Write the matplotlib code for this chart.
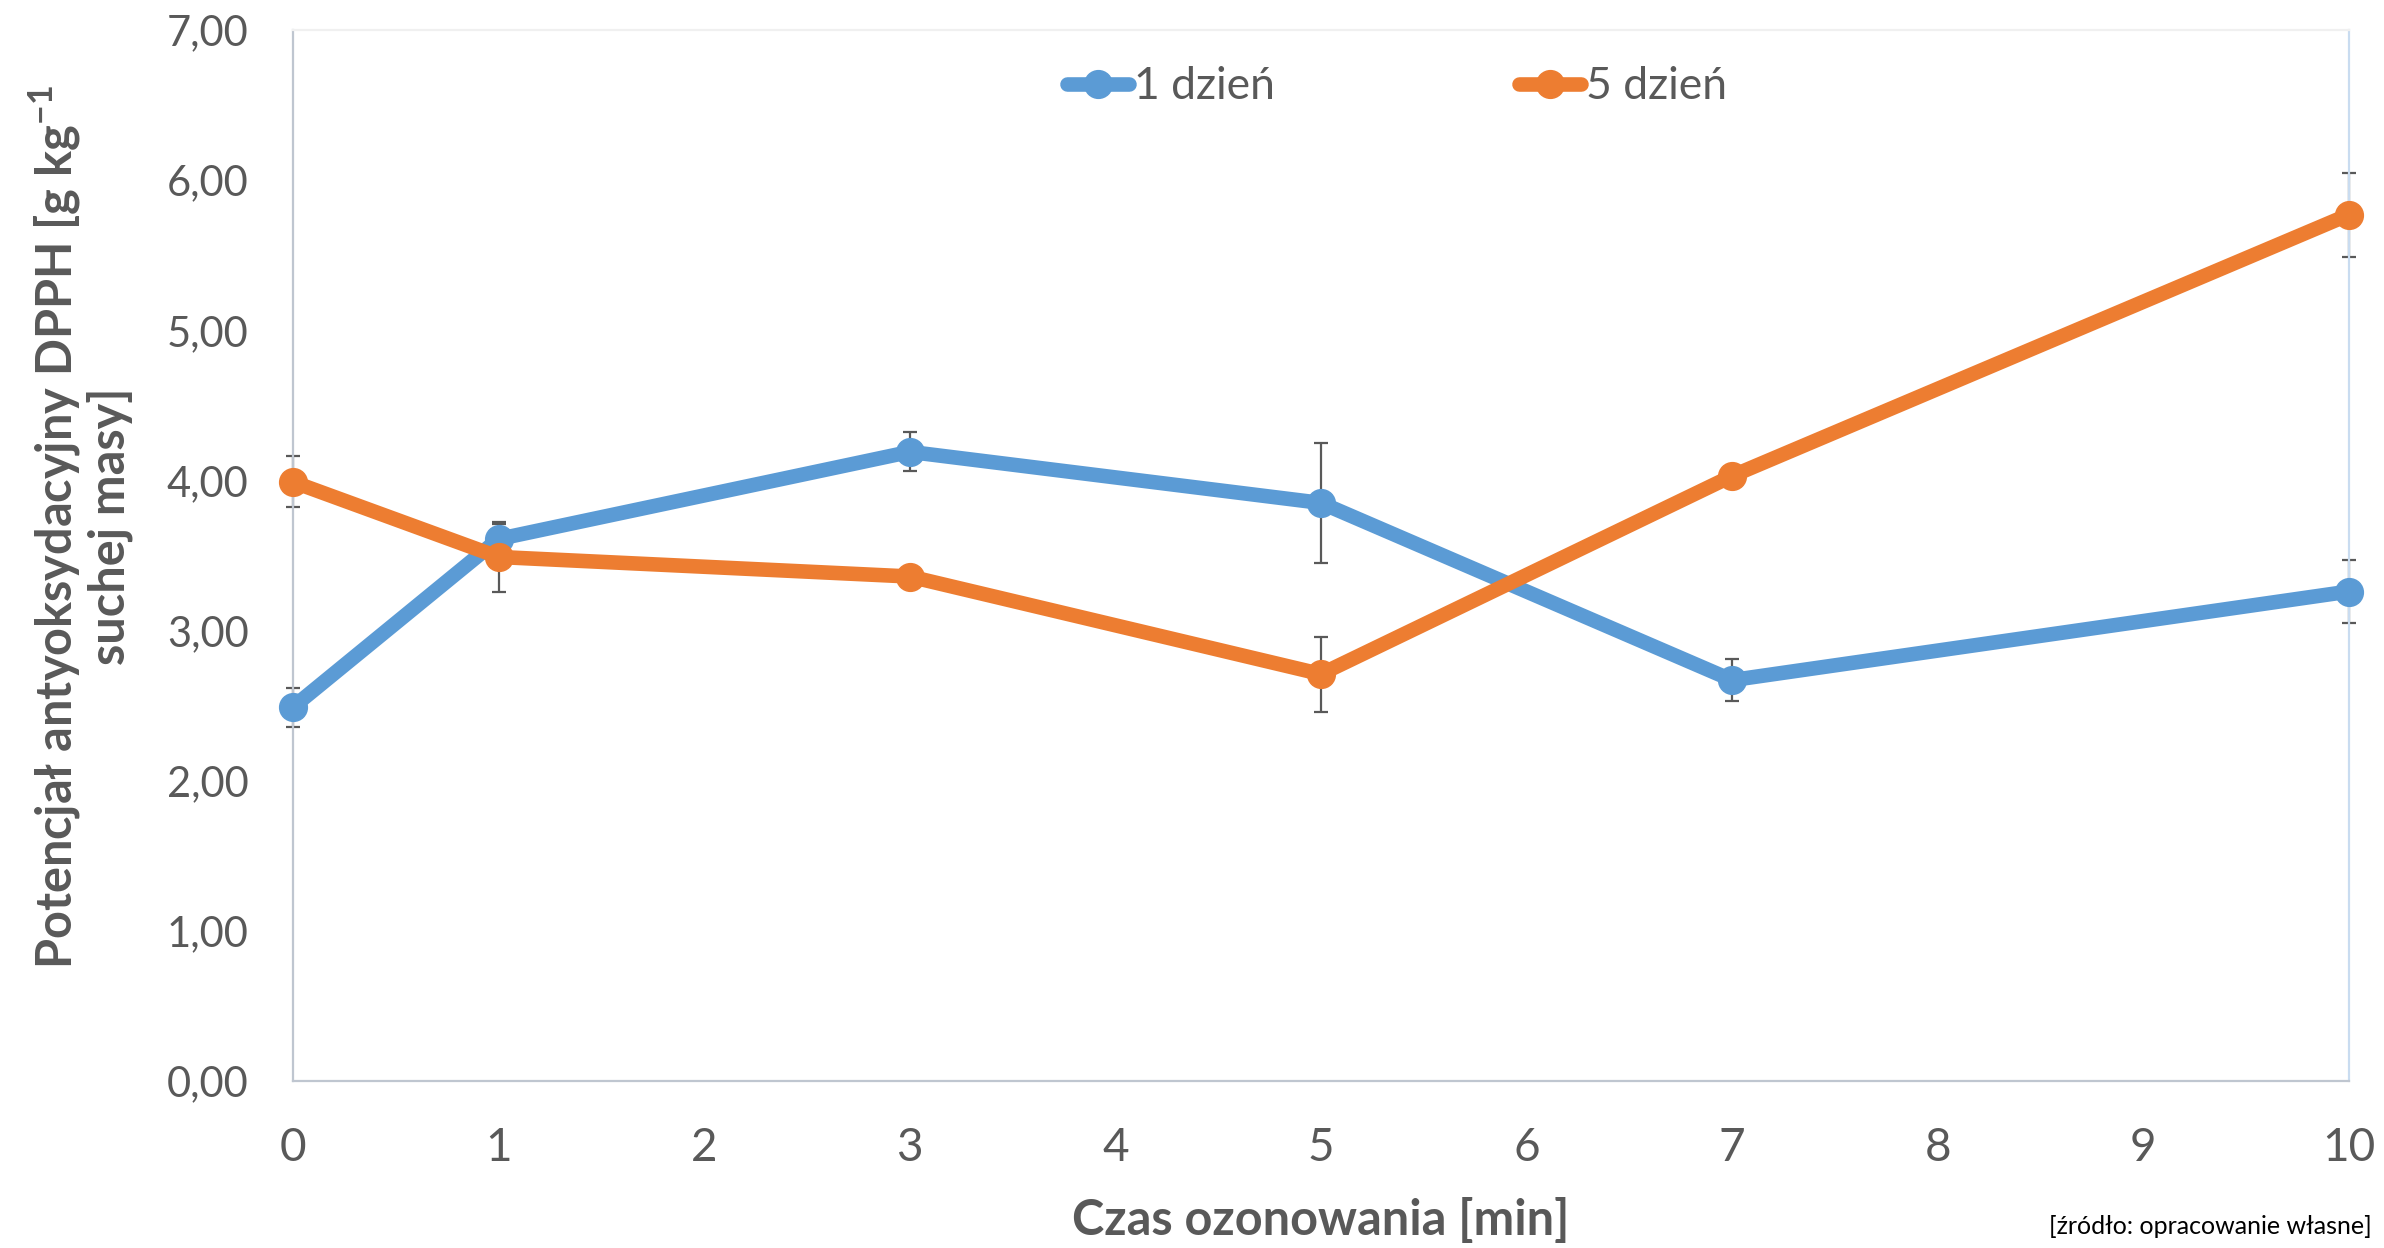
import numpy as np
import matplotlib
matplotlib.use("Agg")
import matplotlib.pyplot as plt

# Dane
czas = [0, 1, 3, 5, 7, 10]
dzien1 = [2.49, 3.61, 4.19, 3.85, 2.67, 3.26]
dzien1_err = [0.13, 0.10, 0.13, 0.40, 0.14, 0.21]
dzien5 = [3.99, 3.49, 3.36, 2.71, 4.03, 5.77]
dzien5_err = [0.17, 0.23, 0.04, 0.25, 0.04, 0.28]
etykiety = ["1 dzień", "5 dzień"]
y_ticks = [0, 1, 2, 3, 4, 5, 6, 7]
x_ticks = [0, 1, 2, 3, 4, 5, 6, 7, 8, 9, 10]

niebieski = "#5B9BD5"
pomaranczowy = "#ED7D31"
szary = "#595959"

plt.rcParams['font.family'] = ['Lato', 'DejaVu Sans']
plt.rcParams['mathtext.fontset'] = 'custom'
plt.rcParams['mathtext.rm'] = 'Lato'
plt.rcParams['mathtext.bf'] = 'Lato:bold'

fig = plt.figure(figsize=(23.84, 12.48), dpi=100)
ax = fig.add_axes([0.1229, 0.1338, 0.8624, 0.8422])

# Słupki błędów pod liniami
for y, err in zip([dzien1, dzien5], [dzien1_err, dzien5_err]):
    eb = ax.errorbar(czas, y, yerr=err, fmt='none', ecolor=szary,
                     elinewidth=1.6, capsize=5, capthick=1.6, zorder=2)
    for art in list(eb.lines[1]) + list(eb.lines[2]):
        art.set_clip_on(False)

# Linie z punktami
for y, kolor, nazwa in zip([dzien1, dzien5], [niebieski, pomaranczowy], etykiety):
    ax.plot(czas, y, color=kolor, lw=10.5, marker='o', ms=20,
            solid_capstyle='round', label=nazwa, zorder=3, clip_on=False)

ax.set_xlim(0, 10)
ax.set_ylim(0, 7)
ax.set_xticks(x_ticks)
ax.set_yticks(y_ticks)
ax.set_yticklabels([f"{v:.2f}".replace(".", ",") for v in y_ticks])
ax.tick_params(axis='y', length=0, pad=32, labelsize=30, labelcolor=szary)
ax.tick_params(axis='x', length=0, pad=33, labelsize=33, labelcolor=szary)

ax.spines['left'].set_color('#BFC6D0')
ax.spines['bottom'].set_color('#BFC6D0')
ax.spines['right'].set_color('#C9DCF0')
ax.spines['top'].set_color('#F0F0F0')
for s in ax.spines.values():
    s.set_linewidth(1.6)

ax.set_xlabel("Czas ozonowania [min]", fontsize=35, fontweight='bold',
              color=szary, labelpad=20)

fig.text(0.0335, 0.578,
         "Potencjał antyoksydacyjny DPPH [g kg$^{\\mathbf{-1}}$\nsuchej masy]",
         rotation=90, ha='center', va='center', multialignment='center',
         fontsize=35, fontweight='bold', color=szary, linespacing=1.1)

leg = ax.legend(loc='center', bbox_to_anchor=(0.537, 0.946), ncol=2,
                frameon=False, fontsize=32, handlelength=1.4,
                handletextpad=0.1, columnspacing=5.5, labelcolor=szary)

fig.text(0.995, 0.017, "[źródło: opracowanie własne]", ha='right',
         va='center', fontsize=18, color='black')

fig.savefig("out.png", dpi=100)
